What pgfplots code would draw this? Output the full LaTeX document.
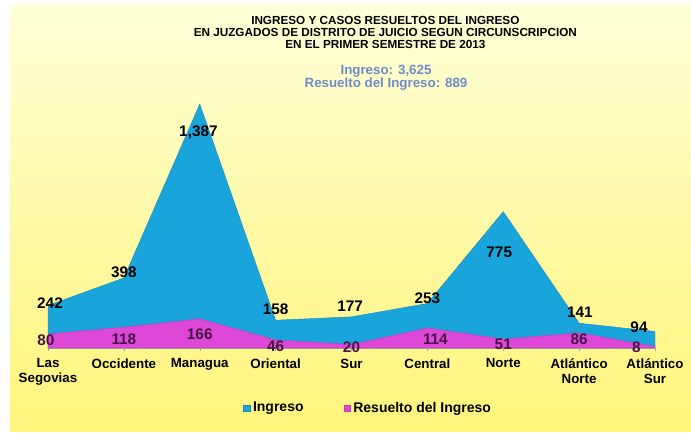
\documentclass[border=0pt]{standalone}
\usepackage{fontspec}
\setmainfont{Liberation Sans}
\usepackage{pgfplots}
\usepackage{pgfplotstable}
\pgfplotsset{compat=1.18}

\definecolor{ingblue}{RGB}{26,164,220}
\definecolor{respink}{RGB}{222,72,214}
\definecolor{subblue}{RGB}{108,140,200}
\definecolor{reslbl}{RGB}{70,20,70}
\definecolor{bgtop}{RGB}{255,255,216}
\definecolor{bgbot}{RGB}{255,244,122}

% x  ingreso  label shifts (pt)  resuelto  label shifts (pt)
\pgfplotstableread{
x ing dxi dyi res dxr dyr
0 242  1.5   2.0  80 -1.5 -5.0
1 398  0.0   4.0 118  0.0 -8.8
2 1387 -1.0 -21.0 166  0.0 -11.3
3 158  0.0   8.5  46  0.0 -4.5
4 177 -1.0   8.0  20  0.0 -1.9
5 253  0.0   4.3 114  6.0 -8.3
6 775 -3.0 -30.6  51  0.0 -3.8
7 141  0.5   8.5  86  0.0 -4.5
8 94  -12.0  3.4   8 -14.0 -0.3
}\datatable

\begin{document}
\begin{tikzpicture}
\useasboundingbox (0,0) rectangle (518.25pt,325.5pt);
\fill[white] (0,0) rectangle (518.25pt,325.5pt);
\shade[top color=bgtop, bottom color=bgbot] (7.5pt,1.5pt) rectangle (518.25pt,321.75pt);

% title
\node[align=center, font=\fontsize{8.8}{9}\selectfont\bfseries] at (289pt,301pt)
  {INGRESO Y CASOS RESUELTOS DEL INGRESO\\EN JUZGADOS DE DISTRITO DE JUICIO SEGUN CIRCUNSCRIPCION\\EN EL PRIMER SEMESTRE DE 2013};
\node[align=center, text=subblue, font=\fontsize{10}{9.8}\selectfont\bfseries] at (289.5pt,267pt)
  {Ingreso: 3,625\\Resuelto del Ingreso: 889};

\begin{axis}[
  at={(36pt,64.5pt)}, anchor=south west,
  scale only axis,
  width=455.25pt, height=184.7pt,
  xmin=0, xmax=8, ymin=0, ymax=1400,
  axis x line=bottom, axis y line=none,
  x axis line style={draw=gray!70, -},
  xtick=data,
  xticklabels={{Las\\Segovias},Occidente,Managua,Oriental,Sur,Central,Norte,{Atlántico\\Norte},{Atlántico\\Sur}},
  xticklabel style={align=center, font=\fontsize{10}{11.3}\selectfont\bfseries, yshift=-2pt},
  tick align=outside, major tick length=2.5pt,
  xtick style={draw=gray!70},
  clip=false,
  /pgf/number format/.cd, 1000 sep={,}, assume math mode=true,
  /pgfplots/.cd,
  legend style={at={(0.528,-0.244)}, anchor=center, draw=none, fill=none,
    legend columns=2, font=\fontsize{10.5}{12}\selectfont\bfseries,
    /tikz/every even column/.append style={column sep=28pt}},
  legend image code/.code={\fill[#1] (0pt,-2.5pt) rectangle (5pt,2.5pt);},
]
\addplot[fill=ingblue, draw=ingblue!85!black, line width=0.3pt] table[x=x, y=ing] {\datatable} \closedcycle;
\addlegendentry{Ingreso}
\addplot[fill=respink, draw=respink!85!black, line width=0.3pt] table[x=x, y=res] {\datatable} \closedcycle;
\addlegendentry{Resuelto del Ingreso}

% data labels
\addplot[draw=none, mark=none, forget plot,
  visualization depends on={\thisrow{dxi} \as \lblx},
  visualization depends on={\thisrow{dyi} \as \lbly},
  nodes near coords,
  every node near coord/.style={anchor=center, xshift=\lblx pt, yshift=\lbly pt,
    font=\fontsize{11.5}{12}\selectfont\bfseries, text=black}]
  table[x=x, y=ing] {\datatable};
\addplot[draw=none, mark=none, forget plot,
  visualization depends on={\thisrow{dxr} \as \lblx},
  visualization depends on={\thisrow{dyr} \as \lbly},
  nodes near coords,
  every node near coord/.style={anchor=center, xshift=\lblx pt, yshift=\lbly pt,
    font=\fontsize{11.5}{12}\selectfont\bfseries, text=reslbl}]
  table[x=x, y=res] {\datatable};
\end{axis}
\end{tikzpicture}
\end{document}
